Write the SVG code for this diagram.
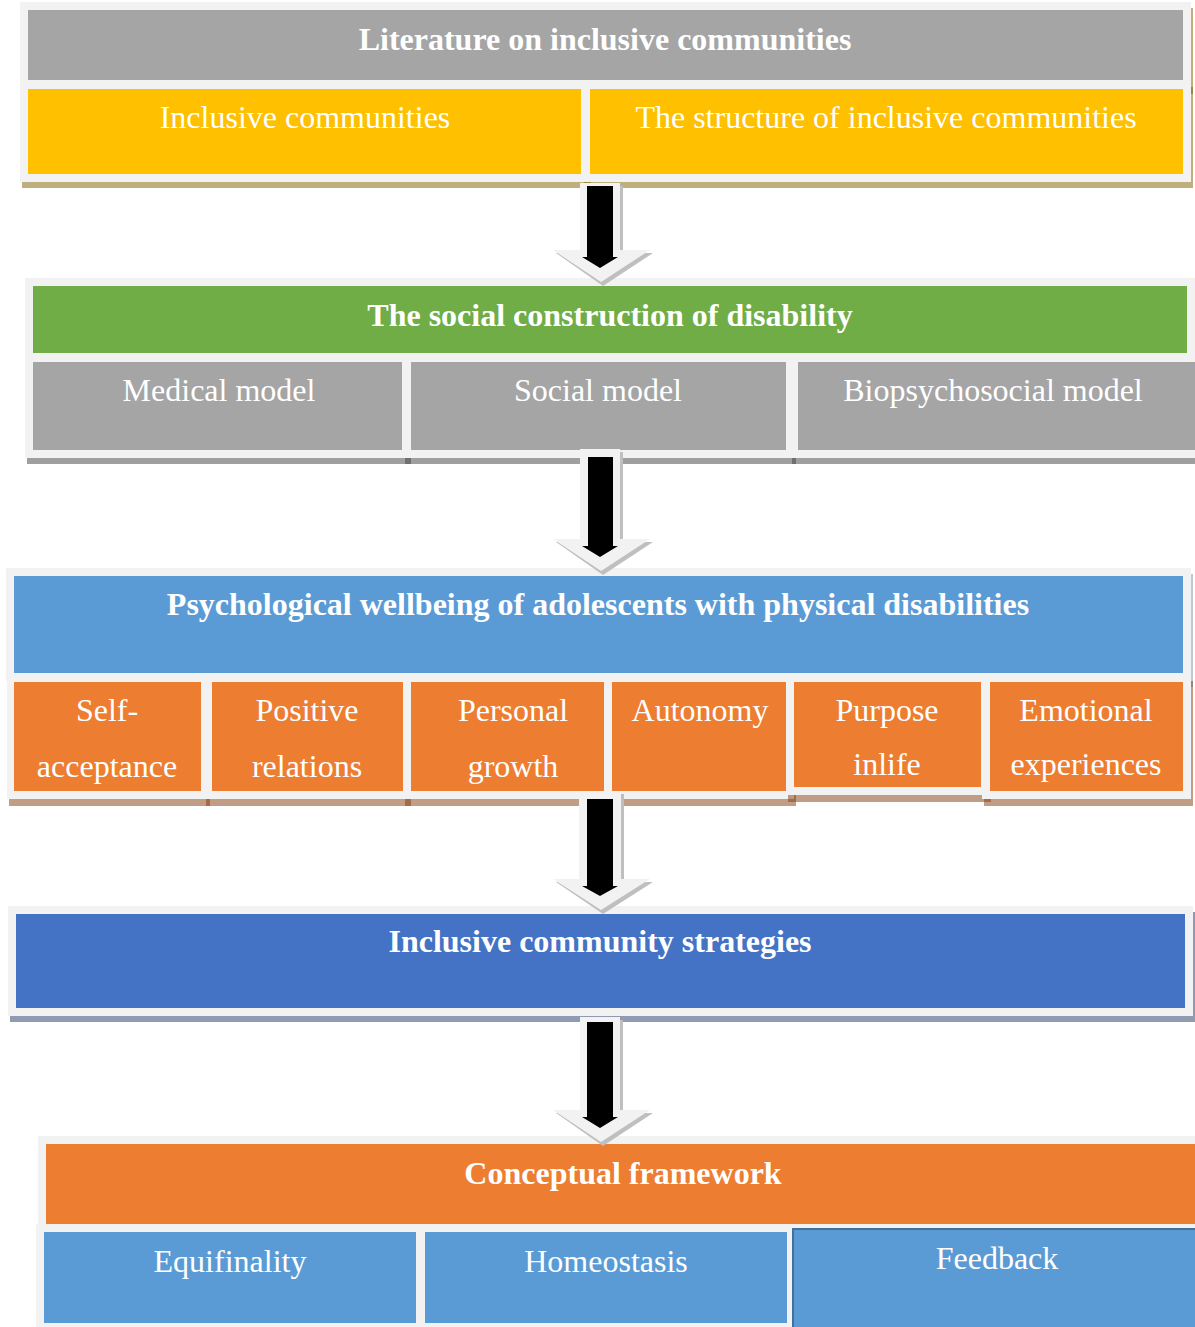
<svg xmlns="http://www.w3.org/2000/svg" width="1195" height="1327" viewBox="0 0 1195 1327">
<style>
  text { font-family: "Liberation Serif", "Times New Roman", serif; fill: #FFFFFF; text-anchor: middle; }
  .t { font-size: 32px; font-weight: bold; }
  .s { font-size: 32px; }
  .bd { fill: #F2F2F2; }
  .shTan { fill: #7F6000; fill-opacity: 0.5; }
  .shGray { fill: #3F3F3F; fill-opacity: 0.5; }
  .shBrown { fill: #843C0C; fill-opacity: 0.5; }
  .shBlue { fill: #1F3864; fill-opacity: 0.5; }
  .shBlue2 { fill: #1F4E79; fill-opacity: 0.3; }
  .gray { fill: #A5A5A5; }
  .yellow { fill: #FFC000; }
  .green { fill: #70AD47; }
  .blue { fill: #5B9BD5; }
  .orange { fill: #ED7D31; }
  .dblue { fill: #4472C4; }
  .arShadow { fill: #BFBFBF; }
  .arLight { fill: #F2F2F2; }
  .arBlack { fill: #000000; }
</style>

<!-- Section 1 -->
<g id="literature">
  <rect class="shTan" x="22" y="8" width="1171" height="86"/>
  <rect class="bd" x="20" y="2" width="1171" height="86"/>
  <rect class="gray" x="28" y="10" width="1155" height="70"/>
  <text class="t" x="605" y="50">Literature on inclusive communities</text>
</g>
<g id="inclusive-communities">
  <rect class="shTan" x="22" y="87" width="569" height="101"/>
  <rect class="bd" x="20" y="81" width="569" height="101"/>
  <rect class="yellow" x="28" y="89" width="553" height="85"/>
  <text class="s" x="305" y="128">Inclusive communities</text>
</g>
<g id="structure">
  <rect class="shTan" x="584" y="87" width="609" height="101"/>
  <rect class="bd" x="582" y="81" width="609" height="101"/>
  <rect class="yellow" x="590" y="89" width="593" height="85"/>
  <text class="s" x="886" y="128">The structure of inclusive communities</text>
</g>

<!-- Section 2 -->
<g id="social-construction">
  <rect class="shGray" x="27" y="284" width="1168" height="83"/>
  <rect class="bd" x="25" y="278" width="1170" height="83"/>
  <rect class="green" x="33" y="286" width="1154" height="67"/>
  <text class="t" x="610" y="326">The social construction of disability</text>
</g>
<g id="medical-model">
  <rect class="shGray" x="27" y="360" width="384" height="104"/>
  <rect class="bd" x="25" y="354" width="385" height="104"/>
  <rect class="gray" x="33" y="362" width="369" height="88"/>
  <text class="s" x="219" y="401">Medical model</text>
</g>
<g id="social-model">
  <rect class="shGray" x="405" y="360" width="391" height="104"/>
  <rect class="bd" x="403" y="354" width="391" height="104"/>
  <rect class="gray" x="411" y="362" width="375" height="88"/>
  <text class="s" x="598" y="401">Social model</text>
</g>
<g id="biopsychosocial-model">
  <rect class="shGray" x="792" y="360" width="403" height="104"/>
  <rect class="bd" x="790" y="354" width="405" height="104"/>
  <rect class="gray" x="798" y="362" width="397" height="88"/>
  <text class="s" x="993" y="401">Biopsychosocial model</text>
</g>

<!-- Section 3 -->
<g id="psychological-wellbeing">
  <rect class="shBlue2" x="8" y="574" width="1185" height="113"/>
  <rect class="bd" x="6" y="568" width="1185" height="113"/>
  <rect class="blue" x="14" y="576" width="1169" height="97"/>
  <text class="t" x="598" y="615">Psychological wellbeing of adolescents with physical disabilities</text>
</g>
<g id="self-acceptance">
  <rect class="shBrown" x="9" y="681" width="201" height="125"/>
  <rect class="bd" x="7" y="674" width="201" height="125"/>
  <rect class="orange" x="14" y="682" width="187" height="109"/>
  <text class="s" x="107" y="721">Self-</text>
  <text class="s" x="107" y="777">acceptance</text>
</g>
<g id="positive-relations">
  <rect class="shBrown" x="206" y="681" width="205" height="125"/>
  <rect class="bd" x="204" y="674" width="207" height="125"/>
  <rect class="orange" x="212" y="682" width="191" height="109"/>
  <text class="s" x="307" y="721">Positive</text>
  <text class="s" x="307" y="777">relations</text>
</g>
<g id="personal-growth">
  <rect class="shBrown" x="405" y="681" width="207" height="125"/>
  <rect class="bd" x="403" y="674" width="209" height="125"/>
  <rect class="orange" x="411" y="682" width="193" height="109"/>
  <text class="s" x="513" y="721">Personal</text>
  <text class="s" x="513" y="777">growth</text>
</g>
<g id="autonomy">
  <rect class="shBrown" x="606" y="681" width="190" height="125"/>
  <rect class="bd" x="604" y="674" width="190" height="125"/>
  <rect class="orange" x="612" y="682" width="174" height="109"/>
  <text class="s" x="700" y="721">Autonomy</text>
</g>
<g id="purpose-in-life">
  <rect class="shBrown" x="788" y="681" width="203" height="121"/>
  <rect class="bd" x="786" y="674" width="203" height="121"/>
  <rect class="orange" x="794" y="682" width="187" height="105"/>
  <text class="s" x="887" y="721">Purpose</text>
  <text class="s" x="887" y="775">inlife</text>
</g>
<g id="emotional-experiences">
  <rect class="shBrown" x="984" y="681" width="209" height="125"/>
  <rect class="bd" x="982" y="674" width="209" height="125"/>
  <rect class="orange" x="990" y="682" width="193" height="109"/>
  <text class="s" x="1086" y="721">Emotional</text>
  <text class="s" x="1086" y="775">experiences</text>
</g>

<!-- Section 4 -->
<g id="inclusive-community-strategies">
  <rect class="shBlue" x="10" y="912" width="1185" height="110"/>
  <rect class="bd" x="8" y="906" width="1185" height="110"/>
  <rect class="dblue" x="16" y="914" width="1169" height="94"/>
  <text class="t" x="600" y="952">Inclusive community strategies</text>
</g>

<!-- Section 5 -->
<g id="conceptual-framework">
  <rect class="bd" x="38" y="1136" width="1157" height="96"/>
  <rect fill="#ED7D31" x="46" y="1144" width="1149" height="80"/>
  <text class="t" x="623" y="1184">Conceptual framework</text>
</g>
<g id="equifinality">
  <rect class="bd" x="36" y="1224" width="388" height="103"/>
  <rect class="blue" x="44" y="1232" width="372" height="91"/>
  <text class="s" x="230" y="1272">Equifinality</text>
</g>
<g id="homeostasis">
  <rect class="bd" x="417" y="1224" width="378" height="103"/>
  <rect class="blue" x="425" y="1232" width="362" height="91"/>
  <text class="s" x="606" y="1272">Homeostasis</text>
</g>
<g id="feedback">
  <rect class="blue" x="793" y="1229" width="404" height="100" stroke="#41719C" stroke-width="2"/>
  <text class="s" x="997" y="1269">Feedback</text>
</g>

<!-- Connectors: block arrows -->
<g id="connectors">
  <g id="arrow1">
    <polygon class="arShadow" points="583,186 623,186 623,253 653,253 603,286 556,253 583,253"/>
    <polygon class="arLight" points="580,183 620,183 620,250 650,250 601,282 553,250 580,250"/>
    <polygon class="arBlack" points="587,186 613,186 613,257 618,257 600,268 582,257 587,257"/>
  </g>
  <g id="arrow2">
    <polygon class="arShadow" points="583,452 623,452 623,542 653,542 603,575 556,542 583,542"/>
    <polygon class="arLight" points="580,449 620,449 620,539 650,539 601,571 553,539 580,539"/>
    <polygon class="arBlack" points="588,457 613,457 613,546 618,546 600,557 582,546 588,546"/>
  </g>
  <g id="arrow3">
    <polygon class="arShadow" points="582,794 624,794 624,882 653,882 603,914 556,882 582,882"/>
    <polygon class="arLight" points="579,791 621,791 621,879 650,879 601,910 553,879 579,879"/>
    <polygon class="arBlack" points="587,799 613,799 613,886 618,886 600,896 582,886 587,886"/>
  </g>
  <g id="arrow4">
    <polygon class="arShadow" points="583,1020 623,1020 623,1113 653,1113 603,1146 556,1113 583,1113"/>
    <polygon class="arLight" points="580,1017 620,1017 620,1110 650,1110 601,1142 553,1110 580,1110"/>
    <polygon class="arBlack" points="587,1022 613,1022 613,1117 618,1117 600,1128 582,1117 587,1117"/>
  </g>
</g>
</svg>
